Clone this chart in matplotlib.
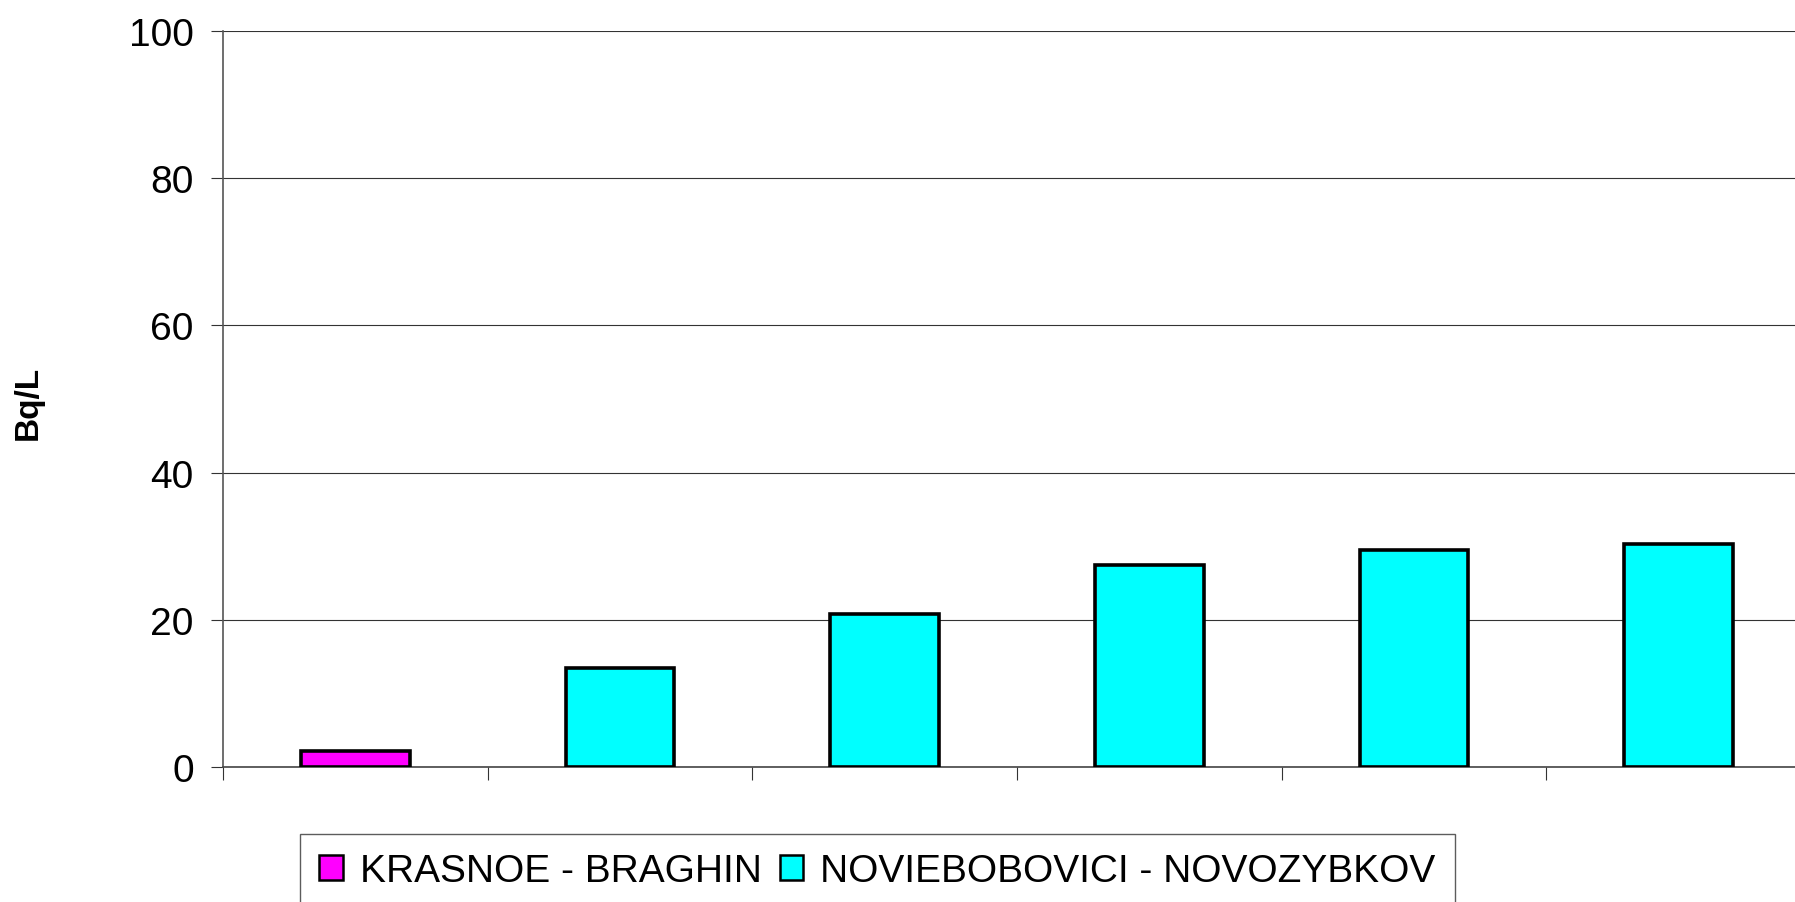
import matplotlib
matplotlib.use("Agg")
import matplotlib.pyplot as plt
from matplotlib.patches import Patch

categories = ["1", "2", "3", "4", "5", "6"]
series_names = ["KRASNOE - BRAGHIN", "NOVIEBOBOVICI - NOVOZYBKOV"]
values = [2.2, 13.5, 20.8, 27.4, 29.5, 30.3]
series_of_bar = [0, 1, 1, 1, 1, 1]
series_colors = ["#FF00FF", "#00FFFF"]
yticks = [0, 20, 40, 60, 80, 100]
ylabel = "Bq/L"

plt.rcParams['font.family'] = ['Liberation Sans', 'DejaVu Sans']

W, H = 1795, 903
fig = plt.figure(figsize=(W / 100, H / 100), dpi=100)
ax = fig.add_axes([223 / W, 1 - 768 / H, (1811 - 223) / W, (768 - 32) / H])

x = list(range(len(categories)))
cols = [series_colors[s] for s in series_of_bar]
ax.bar(x, values, width=0.41, color=cols, edgecolor="black", linewidth=2.6, zorder=3)

ax.set_xlim(-0.5, len(categories) - 0.5)
ax.set_ylim(0, 100)
ax.set_yticks(yticks)
ax.set_yticklabels([str(t) for t in yticks], fontsize=28)
ax.set_xticks([i - 0.5 for i in range(len(categories) + 1)])
ax.set_xticklabels([])
ax.tick_params(axis='y', length=9, width=0.8, color="#333333", pad=12)
ax.tick_params(axis='x', length=9, width=0.8, color="#333333", direction='out')
ax.yaxis.grid(True, color="#333333", linewidth=0.8, zorder=0)
ax.set_axisbelow(True)
for s in ["top", "right"]:
    ax.spines[s].set_visible(False)
ax.spines["left"].set_color("#555555")
ax.spines["left"].set_linewidth(1.2)
ax.spines["bottom"].set_color("#444444")
ax.spines["bottom"].set_linewidth(1.2)

fig.text(28 / W, 1 - 403 / H, ylabel, rotation=90, fontsize=24, fontweight='bold',
         ha='center', va='center')

handles = [Patch(facecolor=series_colors[i], edgecolor='black', linewidth=1.8, label=series_names[i])
           for i in range(2)]
leg = fig.legend(handles=handles, loc='upper left', bbox_to_anchor=(300 / W, 1 - 835 / H),
                 ncol=2, fontsize=28, frameon=True, fancybox=False, edgecolor='#333333',
                 handlelength=0.6, handleheight=0.6, handletextpad=0.45, columnspacing=0.45,
                 borderpad=0.5, borderaxespad=0)
leg.get_frame().set_linewidth(1.0)

fig.savefig("out.png", dpi=100, facecolor="white")
